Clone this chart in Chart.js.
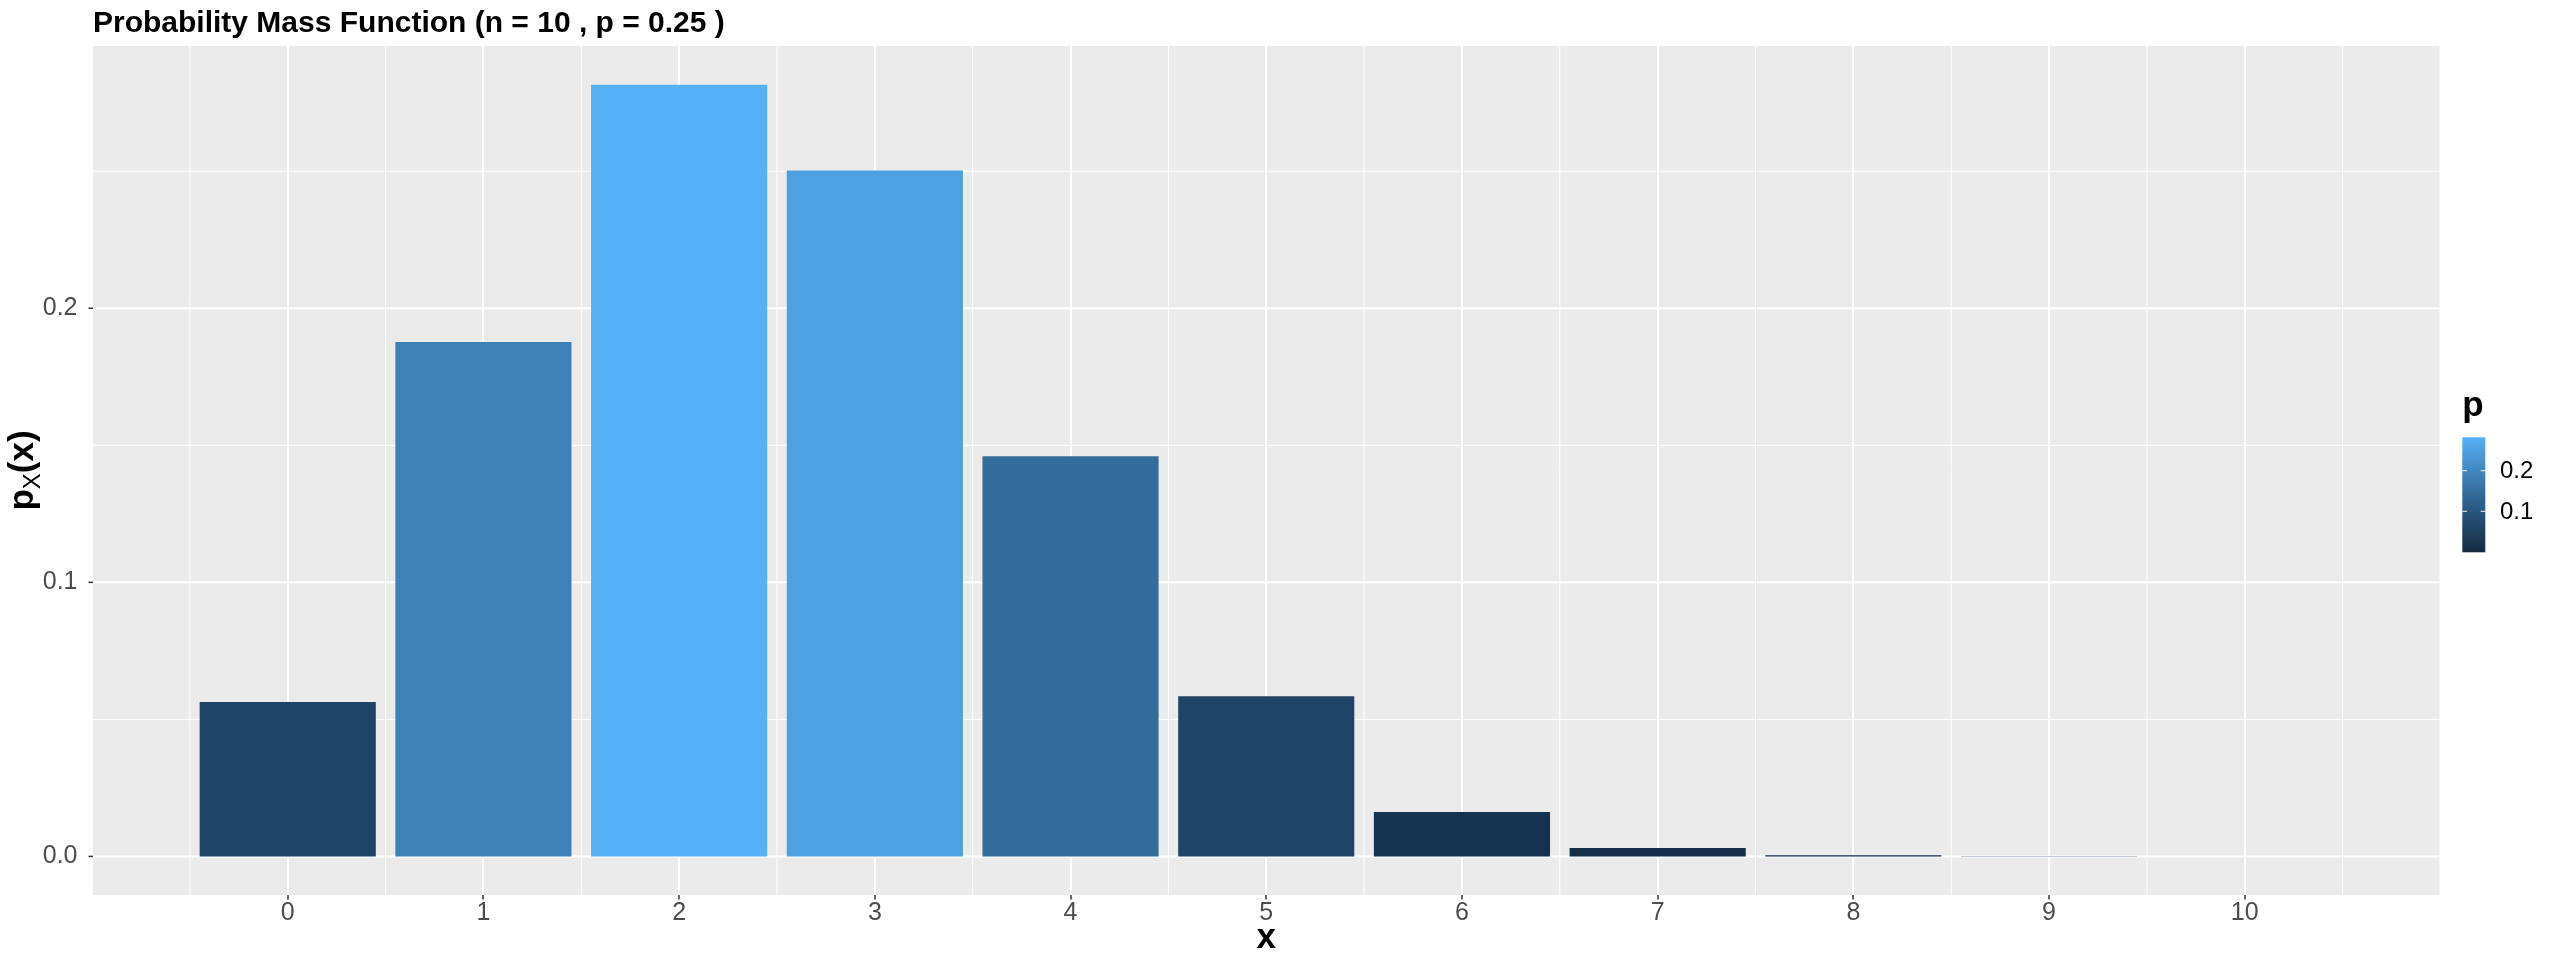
<!DOCTYPE html>
<html><head><meta charset="utf-8">
<script src="https://cdn.jsdelivr.net/npm/chart.js@4.4.1/dist/chart.umd.min.js"></script>
<style>html,body{margin:0;padding:0;background:#fff;overflow:hidden}canvas{display:block}</style>
</head><body>
<canvas id="c" width="2549" height="962"></canvas>
<script>
// ---- data ----
const xValues = [0, 1, 2, 3, 4, 5, 6, 7, 8, 9, 10];
const probabilities = [0.0563, 0.1877, 0.2816, 0.2503, 0.1460, 0.0584, 0.0162, 0.0031, 0.0004, 0.00003, 0.000001];
const xTickValues = [0, 1, 2, 3, 4, 5, 6, 7, 8, 9, 10];
const xTickLabels = ['0', '1', '2', '3', '4', '5', '6', '7', '8', '9', '10'];
const xMinorBreaks = [-0.5, 0.5, 1.5, 2.5, 3.5, 4.5, 5.5, 6.5, 7.5, 8.5, 9.5, 10.5];
const yTickValues = [0, 0.1, 0.2];
const yTickLabels = ['0.0', '0.1', '0.2'];
const yMinorBreaks = [0.05, 0.15, 0.25];
const legendTickValues = [0.1, 0.2];
const legendTickLabels = ['0.1', '0.2'];
const titleText = 'Probability Mass Function (n = 10 , p = 0.25 )';
const xTitle = 'x';
const legendTitle = 'p';
const lowColor = '#132B43', highColor = '#56B1F7';

// ---- Lab colour interpolation (ggplot-like gradient) ----
function hex2rgb(h){return [1,3,5].map(i=>parseInt(h.substr(i,2),16)/255);}
function lin(c){return c<=0.04045?c/12.92:Math.pow((c+0.055)/1.055,2.4);}
function delin(c){return c<=0.0031308?12.92*c:1.055*Math.pow(c,1/2.4)-0.055;}
const WX=0.95047, WY=1.0, WZ=1.08883, EPS=216/24389, KAP=24389/27;
function fL(t){return t>EPS?Math.cbrt(t):(KAP*t+16)/116;}
function fInv(t){const t3=t*t*t;return t3>EPS?t3:(116*t-16)/KAP;}
function toLab(h){
  const [r,g,b]=hex2rgb(h).map(lin);
  const X=0.4124564*r+0.3575761*g+0.1804375*b;
  const Y=0.2126729*r+0.7151522*g+0.0721750*b;
  const Z=0.0193339*r+0.1191920*g+0.9503041*b;
  const fx=fL(X/WX), fy=fL(Y/WY), fz=fL(Z/WZ);
  return [116*fy-16, 500*(fx-fy), 200*(fy-fz)];
}
function labToCss(L,a,b){
  const fy=(L+16)/116, fx=fy+a/500, fz=fy-b/200;
  const X=WX*fInv(fx), Y=WY*fInv(fy), Z=WZ*fInv(fz);
  const r=3.2404542*X-1.5371385*Y-0.4985314*Z;
  const g=-0.9692660*X+1.8760108*Y+0.0415560*Z;
  const bl=0.0556434*X-0.2040259*Y+1.0572252*Z;
  return 'rgb('+[r,g,bl].map(c=>Math.round(Math.min(1,Math.max(0,delin(c)))*255)).join(',')+')';
}
const labLow=toLab(lowColor), labHigh=toLab(highColor);
const cMin=Math.min(...probabilities), cMax=Math.max(...probabilities);
function colorFor(v){
  const t=Math.min(1,Math.max(0,(v-cMin)/(cMax-cMin)));
  return labToCss(labLow[0]+(labHigh[0]-labLow[0])*t, labLow[1]+(labHigh[1]-labLow[1])*t, labLow[2]+(labHigh[2]-labLow[2])*t);
}

const FONT='"Liberation Sans", Arial, Helvetica, sans-serif';
Chart.defaults.font.family=FONT;

// ---- plugins ----
const panelPlugin={
  id:'panel',
  beforeDraw(chart){
    const {ctx,chartArea:a,scales:{x,y}}=chart;
    ctx.save();
    ctx.fillStyle='#ffffff';ctx.fillRect(0,0,chart.width,chart.height);
    ctx.fillStyle='#EBEBEB';ctx.fillRect(a.left,a.top,a.right-a.left,a.bottom-a.top);
    ctx.strokeStyle='#ffffff';ctx.lineWidth=1;
    xMinorBreaks.forEach(v=>{const p=x.getPixelForValue(v);ctx.beginPath();ctx.moveTo(p,a.top);ctx.lineTo(p,a.bottom);ctx.stroke();});
    yMinorBreaks.forEach(v=>{const p=y.getPixelForValue(v);ctx.beginPath();ctx.moveTo(a.left,p);ctx.lineTo(a.right,p);ctx.stroke();});
    // y major grid lines and tick marks
    ctx.lineWidth=2;
    yTickValues.forEach(v=>{const p=y.getPixelForValue(v);ctx.strokeStyle='#ffffff';ctx.beginPath();ctx.moveTo(a.left,p);ctx.lineTo(a.right,p);ctx.stroke();});
    ctx.lineWidth=1.5;ctx.strokeStyle='#333333';
    yTickValues.forEach(v=>{const p=y.getPixelForValue(v);ctx.beginPath();ctx.moveTo(a.left-4.5,p);ctx.lineTo(a.left,p);ctx.stroke();});
    ctx.restore();
  }
};
const textPlugin={
  id:'texts',
  afterDraw(chart){
    const {ctx,chartArea:a}=chart;
    ctx.save();
    // title
    ctx.fillStyle='#000';ctx.textBaseline='alphabetic';ctx.textAlign='left';
    ctx.font='bold 30px '+FONT;
    ctx.fillText(titleText,a.left,32);
    // x title
    ctx.textAlign='center';ctx.font='bold 35px '+FONT;
    ctx.fillText(xTitle,(a.left+a.right)/2,948);
    // y title p_X(x)
    ctx.save();
    ctx.translate(33,(a.top+a.bottom)/2);
    ctx.rotate(-Math.PI/2);
    ctx.textAlign='left';
    const bF='bold 35px '+FONT, sF='24px '+FONT;
    ctx.font=bF;const w1=ctx.measureText('p').width;const w3=ctx.measureText('(x)').width;
    ctx.font=sF;const w2=ctx.measureText('X').width;
    let sx=-(w1+w2+w3)/2;
    ctx.font=bF;ctx.fillText('p',sx,0);sx+=w1;
    ctx.font=sF;ctx.fillText('X',sx,7);sx+=w2;
    ctx.font=bF;ctx.fillText('(x)',sx,0);
    ctx.restore();
    // legend
    const lx=2462.3, lw=23, ltop=437.3, lbot=552.3;
    ctx.textAlign='left';ctx.font='bold 35px '+FONT;ctx.fillStyle='#000';
    ctx.fillText(legendTitle,lx,416);
    const grad=ctx.createLinearGradient(0,lbot,0,ltop);
    for(let i=0;i<=20;i++){grad.addColorStop(i/20,colorFor(cMin+(cMax-cMin)*i/20));}
    ctx.fillStyle=grad;ctx.fillRect(lx,ltop,lw,lbot-ltop);
    ctx.strokeStyle='rgba(255,255,255,0.75)';ctx.lineWidth=1.2;
    ctx.font='24px '+FONT;ctx.textBaseline='middle';
    legendTickValues.forEach((v,i)=>{
      const py=lbot-(v-cMin)/(cMax-cMin)*(lbot-ltop);
      ctx.beginPath();ctx.moveTo(lx,py);ctx.lineTo(lx+lw/5,py);ctx.moveTo(lx+lw-lw/5,py);ctx.lineTo(lx+lw,py);ctx.stroke();
      ctx.fillStyle='#000';ctx.fillText(legendTickLabels[i],2500,py+1);
    });
    ctx.restore();
  }
};

new Chart(document.getElementById('c'),{
  type:'bar',
  data:{datasets:[{
    data:xValues.map((x,i)=>({x:x,y:probabilities[i]})),
    backgroundColor:probabilities.map(colorFor),
    borderWidth:0,
    inflateAmount:0,
    barPercentage:0.9,
    categoryPercentage:1.0
  }]},
  options:{
    responsive:false,animation:false,devicePixelRatio:1,
    layout:{padding:{top:46,right:109.5,left:0,bottom:0}},
    plugins:{legend:{display:false},title:{display:false},tooltip:{enabled:false}},
    scales:{
      x:{type:'linear',min:-0.995,max:10.995,offset:false,
        afterBuildTicks(s){s.ticks=xTickValues.map(v=>({value:v}));},
        afterFit(s){s.height=67;},
        ticks:{autoSkip:false,maxRotation:0,padding:-1.5,color:'#4D4D4D',font:{size:25},
          callback(v){const i=xTickValues.indexOf(v);return i>=0?xTickLabels[i]:'';}},
        grid:{offset:false,color:'#ffffff',lineWidth:2,tickColor:'#333333',tickWidth:1.5,tickLength:4.5,drawOnChartArea:true},
        border:{display:false}
      },
      y:{type:'linear',min:-0.01408,max:0.2957,
        afterBuildTicks(s){s.ticks=yTickValues.map(v=>({value:v}));},
        afterFit(s){s.width=93;},
        ticks:{autoSkip:false,padding:7.5,color:'#4D4D4D',font:{size:25},
          callback(v){const i=yTickValues.findIndex(t=>Math.abs(t-v)<1e-9);return i>=0?yTickLabels[i]:'';}},
        grid:{display:false},
        border:{display:false}
      }
    }
  },
  plugins:[panelPlugin,textPlugin]
});
</script>
</body></html>
